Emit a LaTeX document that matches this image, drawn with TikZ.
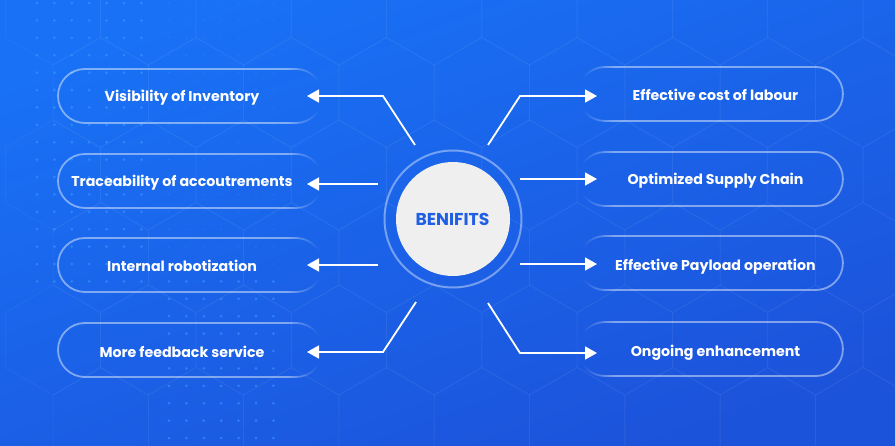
\documentclass[tikz,border=0pt]{standalone}
\usepackage{fontspec}
\setmainfont{Poppins}
\usepackage{xcolor}
\usepackage{tikz}
\usetikzlibrary{arrows.meta,fadings}
\definecolor{bgTop}{HTML}{1971F5}
\definecolor{bgBot}{HTML}{1C53DB}
\definecolor{dotBlue}{HTML}{3DA4FF}
\definecolor{discGrey}{HTML}{EFEFEF}
\definecolor{benBlue}{HTML}{1F5FE3}
\pgfdeclarehorizontalshading{pillfadeR}{100bp}{color(0bp)=(white); color(68bp)=(white); color(74bp)=(black); color(100bp)=(black)}
\pgfdeclarefading{pillfadeR}{\pgfuseshading{pillfadeR}}
\pgfdeclarehorizontalshading{pillfadeL}{100bp}{color(0bp)=(black); color(26bp)=(black); color(32bp)=(white); color(100bp)=(white)}
\pgfdeclarefading{pillfadeL}{\pgfuseshading{pillfadeL}}
\tikzset{
  pillline/.style={white,draw opacity=0.45,line width=1.8pt,rounded corners=27pt},
  lbl/.style={text=white,font=\bfseries\fontsize{14.2}{16}\selectfont,inner sep=0pt,anchor=base},
  arr/.style={white,line width=1.8pt,-{Triangle[length=12pt,width=13pt]}},
  hexline/.style={white,draw opacity=0.035,line width=1pt},
  dotc/.style={dotBlue,opacity=0.5}
}
\begin{document}
\begin{tikzpicture}[x=1pt,y=-1pt]
\useasboundingbox (0,0) rectangle (895,445);
\shade[top color=bgTop,bottom color=bgBot,shading angle=20] (0,0) rectangle (895,445);
\foreach \r in {0,...,5} {
  \foreach \c in {0,...,9} {
    \pgfmathsetmacro\hx{53+95.3*\c+47.65*mod(\r,2)}
    \pgfmathsetmacro\hy{10+82.5*\r}
    \draw[hexline] (\hx,\hy) +(30:55) -- +(90:55) -- +(150:55) -- +(210:55) -- +(270:55) -- +(330:55) -- cycle;
  }
}
\foreach \i in {0,...,6} {
  \foreach \j in {0,...,16} {\fill[dotc] (37+17.4*\i,3+17.4*\j) circle (1.5pt);}
}
\foreach \i in {0,...,6} {
  \foreach \j in {0,...,15} {\fill[dotc,opacity=0.25] (169+17.4*\i,3+17.4*\j) circle (0.9pt);}
  \foreach \j in {16,...,25} {\fill[dotc] (169+17.4*\i,3+17.4*\j) circle (1.5pt);}
}
\foreach \y in {96,181,265,350} {\draw[pillline,path fading=pillfadeR] (58,\y-27) rectangle (323,\y+27);}
\foreach \y in {94,179,263,349} {\draw[pillline,path fading=pillfadeL] (578,\y-27) rectangle (843,\y+27);}
\node[circle,draw=white,draw opacity=0.4,line width=2pt,minimum size=137pt,inner sep=0pt] (halo) at (453,219) {};
\node[circle,fill=discGrey,minimum size=114pt,inner sep=0pt] (ben) at (453,219) {};
\node[text=benBlue,font=\bfseries\fontsize{17.2}{19}\selectfont,inner sep=0pt,anchor=base] (benTxt) at (452.5,225) {BENIFITS};
\node[lbl] (vis) at (182,101) {Visibility of Inventory};
\node[lbl] (trace) at (182,186.5) {Traceability of accoutrements};
\node[lbl] (robot) at (182,271) {Internal robotization};
\node[lbl] (feed) at (182,357) {More feedback service};
\node[lbl] (labour) at (715.5,100) {Effective cost of labour};
\node[lbl] (supply) at (715.5,184) {Optimized Supply Chain};
\node[lbl] (payload) at (715.5,270) {Effective Payload operation};
\node[lbl] (enhance) at (715.5,356) {Ongoing enhancement};
\coordinate (sVis) at (415,145);
\coordinate (sTrace) at (378,184);
\coordinate (sRobot) at (378,265);
\coordinate (sFeed) at (416,302);
\coordinate (tVis) at (307,96);
\coordinate (tTrace) at (307,184);
\coordinate (tRobot) at (307,265);
\coordinate (tFeed) at (307,352);
\coordinate (sLabour) at (488,145);
\coordinate (sSupply) at (520,179);
\coordinate (sPayload) at (520,264);
\coordinate (sEnhance) at (488,303);
\coordinate (tLabour) at (597,96);
\coordinate (tSupply) at (597,179);
\coordinate (tPayload) at (597,264);
\coordinate (tEnhance) at (597,353);
\draw[arr] (sVis) -- (383,96) -- (tVis);
\draw[arr] (sTrace) -- (tTrace);
\draw[arr] (sRobot) -- (tRobot);
\draw[arr] (sFeed) -- (383,352) -- (tFeed);
\draw[arr] (sLabour) -- (520,96) -- (tLabour);
\draw[arr] (sSupply) -- (tSupply);
\draw[arr] (sPayload) -- (tPayload);
\draw[arr] (sEnhance) -- (520,353) -- (tEnhance);
\end{tikzpicture}
\end{document}
